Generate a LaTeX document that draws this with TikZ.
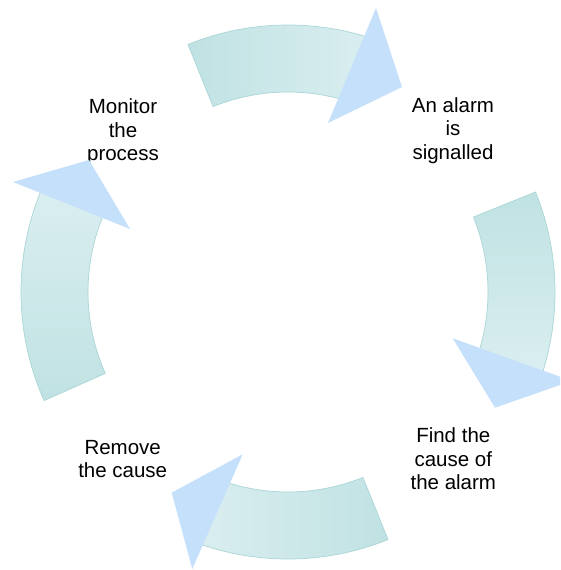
\documentclass[tikz,border=0pt]{standalone}
\usepackage{fontspec}
\setmainfont{Liberation Sans}
\definecolor{bandA}{RGB}{192,226,227}
\definecolor{bandB}{RGB}{218,238,240}
\definecolor{bandline}{RGB}{170,214,215}
\definecolor{tri}{RGB}{197,224,251}
\tikzset{
  band/.style={draw=bandline, line width=0.7pt},
  tip/.style={fill=tri, draw=none},
  lbl/.style={align=center, font=\fontsize{20.5}{23.5}\selectfont, inner sep=0pt}
}
\begin{document}
\begin{tikzpicture}[x=1pt, y=-1pt]
\useasboundingbox (0,0) rectangle (560,570);
\clip (0,0) rectangle (560,570);
\fill[white] (0,0) rectangle (560,570);
\begin{scope}[shift={(288,292)}]
  % top band (start left, dark)
  \shadedraw[band, left color=bandA, right color=bandB]
    (-112:267) arc[start angle=-112, end angle=-72, radius=267]
    -- (-72:200) arc[start angle=-72, end angle=-112, radius=200] -- cycle;
  % right band (start top)
  \shadedraw[band, top color=bandA, bottom color=bandB]
    (-22:267) arc[start angle=-22, end angle=18, radius=267]
    -- (18:200) arc[start angle=18, end angle=-22, radius=200] -- cycle;
  % bottom band (start right)
  \shadedraw[band, right color=bandA, left color=bandB]
    (68:267) arc[start angle=68, end angle=110, radius=267]
    -- (110:200) arc[start angle=110, end angle=68, radius=200] -- cycle;
  % left band (start bottom)
  \shadedraw[band, bottom color=bandA, top color=bandB]
    (202:267) arc[start angle=202, end angle=156, radius=267]
    -- (156:200) arc[start angle=156, end angle=202, radius=200] -- cycle;
\end{scope}

\node[lbl] (monitor) at (123,131.8) {Monitor\\the\\process};
\node[lbl] (alarm) at (453,130.5) {An alarm\\is\\signalled};
\node[lbl] (find) at (453.3,458.9) {Find the\\cause of\\the alarm};
\node[lbl] (remove) at (122.7,459) {Remove\\the cause};

% arrow heads
\fill[tip] (376,8) -- (402,87) -- (328,123) -- cycle;
\fill[tip] (452.7,338.3) -- (571.7,380.9) -- (495,407.7) -- cycle;
\fill[tip] (242.7,454.3) -- (171.7,492.7) -- (192.3,569) -- cycle;
\fill[tip] (13,182) -- (89,160) -- (130,229) -- cycle;
\end{tikzpicture}
\end{document}
